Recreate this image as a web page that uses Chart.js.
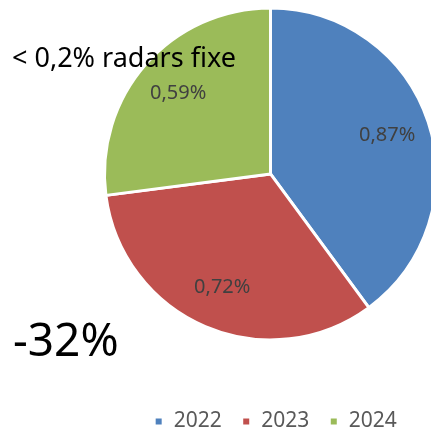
<!DOCTYPE html>
<html lang="fr">
<head>
<meta charset="UTF-8">
<title>Radars fixes</title>
<script src="https://cdn.jsdelivr.net/npm/chart.js"></script>
<style>
    html, body { margin: 0; padding: 0; background: #fff; overflow: hidden; }
    #wrap { position: relative; width: 440px; height: 442px; }
</style>
</head>
<body>
<div id="wrap"><canvas id="pie"></canvas></div>
<script>
// Données
const years = ['2022', '2023', '2024'];
const rates = [0.87, 0.72, 0.59];
const colors = ['#4F81BD', '#C0504D', '#9BBB59'];

const fmt = v => v.toFixed(2).replace('.', ',') + '%';

// étiquettes de valeur dans les parts + textes libres
const labelPlugin = {
    id: 'labels',
    afterLayout(chart) {
        // légende un peu décalée vers la droite comme dans l'original
        chart.legend.left += 5;
        chart.legend.right += 5;
    },
    afterDatasetsDraw(chart) {
        const ctx = chart.ctx;
        const meta = chart.getDatasetMeta(0);
        ctx.save();
        ctx.font = '20px "Noto Sans"';
        ctx.fillStyle = '#404040';
        ctx.textAlign = 'center';
        ctx.textBaseline = 'middle';
        meta.data.forEach((arc, i) => {
            const p = arc.getProps(['x', 'y', 'startAngle', 'endAngle', 'outerRadius'], true);
            const mid = (p.startAngle + p.endAngle) / 2;
            const r = p.outerRadius * 0.74;
            ctx.fillText(fmt(rates[i]), p.x + Math.cos(mid) * r, p.y + Math.sin(mid) * r);
        });
        ctx.fillStyle = '#000';
        ctx.textAlign = 'left';
        ctx.textBaseline = 'alphabetic';
        ctx.font = '27px "Noto Sans"';
        ctx.fillText('< 0,2% radars fixe', 12, 67);
        ctx.font = '46px "Noto Sans"';
        ctx.fillText('-32%', 13, 356);
        ctx.restore();
    }
};

new Chart(document.getElementById('pie'), {
    type: 'pie',
    data: {
        labels: years,
        datasets: [{
            data: rates,
            backgroundColor: colors,
            borderColor: '#fff',
            borderWidth: 3
        }]
    },
    options: {
        responsive: true,
        maintainAspectRatio: false,
        animation: false,
        layout: { padding: { top: 6, left: 103, right: 2, bottom: 0 } },
        plugins: {
            legend: {
                position: 'bottom',
                title: { display: true, text: '', padding: { top: 48, bottom: 0 }, font: { size: 1 } },
                labels: {
                    font: { size: 21, family: 'Noto Sans' },
                    color: '#595959',
                    boxWidth: 9,
                    boxHeight: 9,
                    padding: 20
                }
            },
            tooltip: { enabled: false }
        }
    },
    plugins: [labelPlugin]
});
</script>
</body>
</html>
